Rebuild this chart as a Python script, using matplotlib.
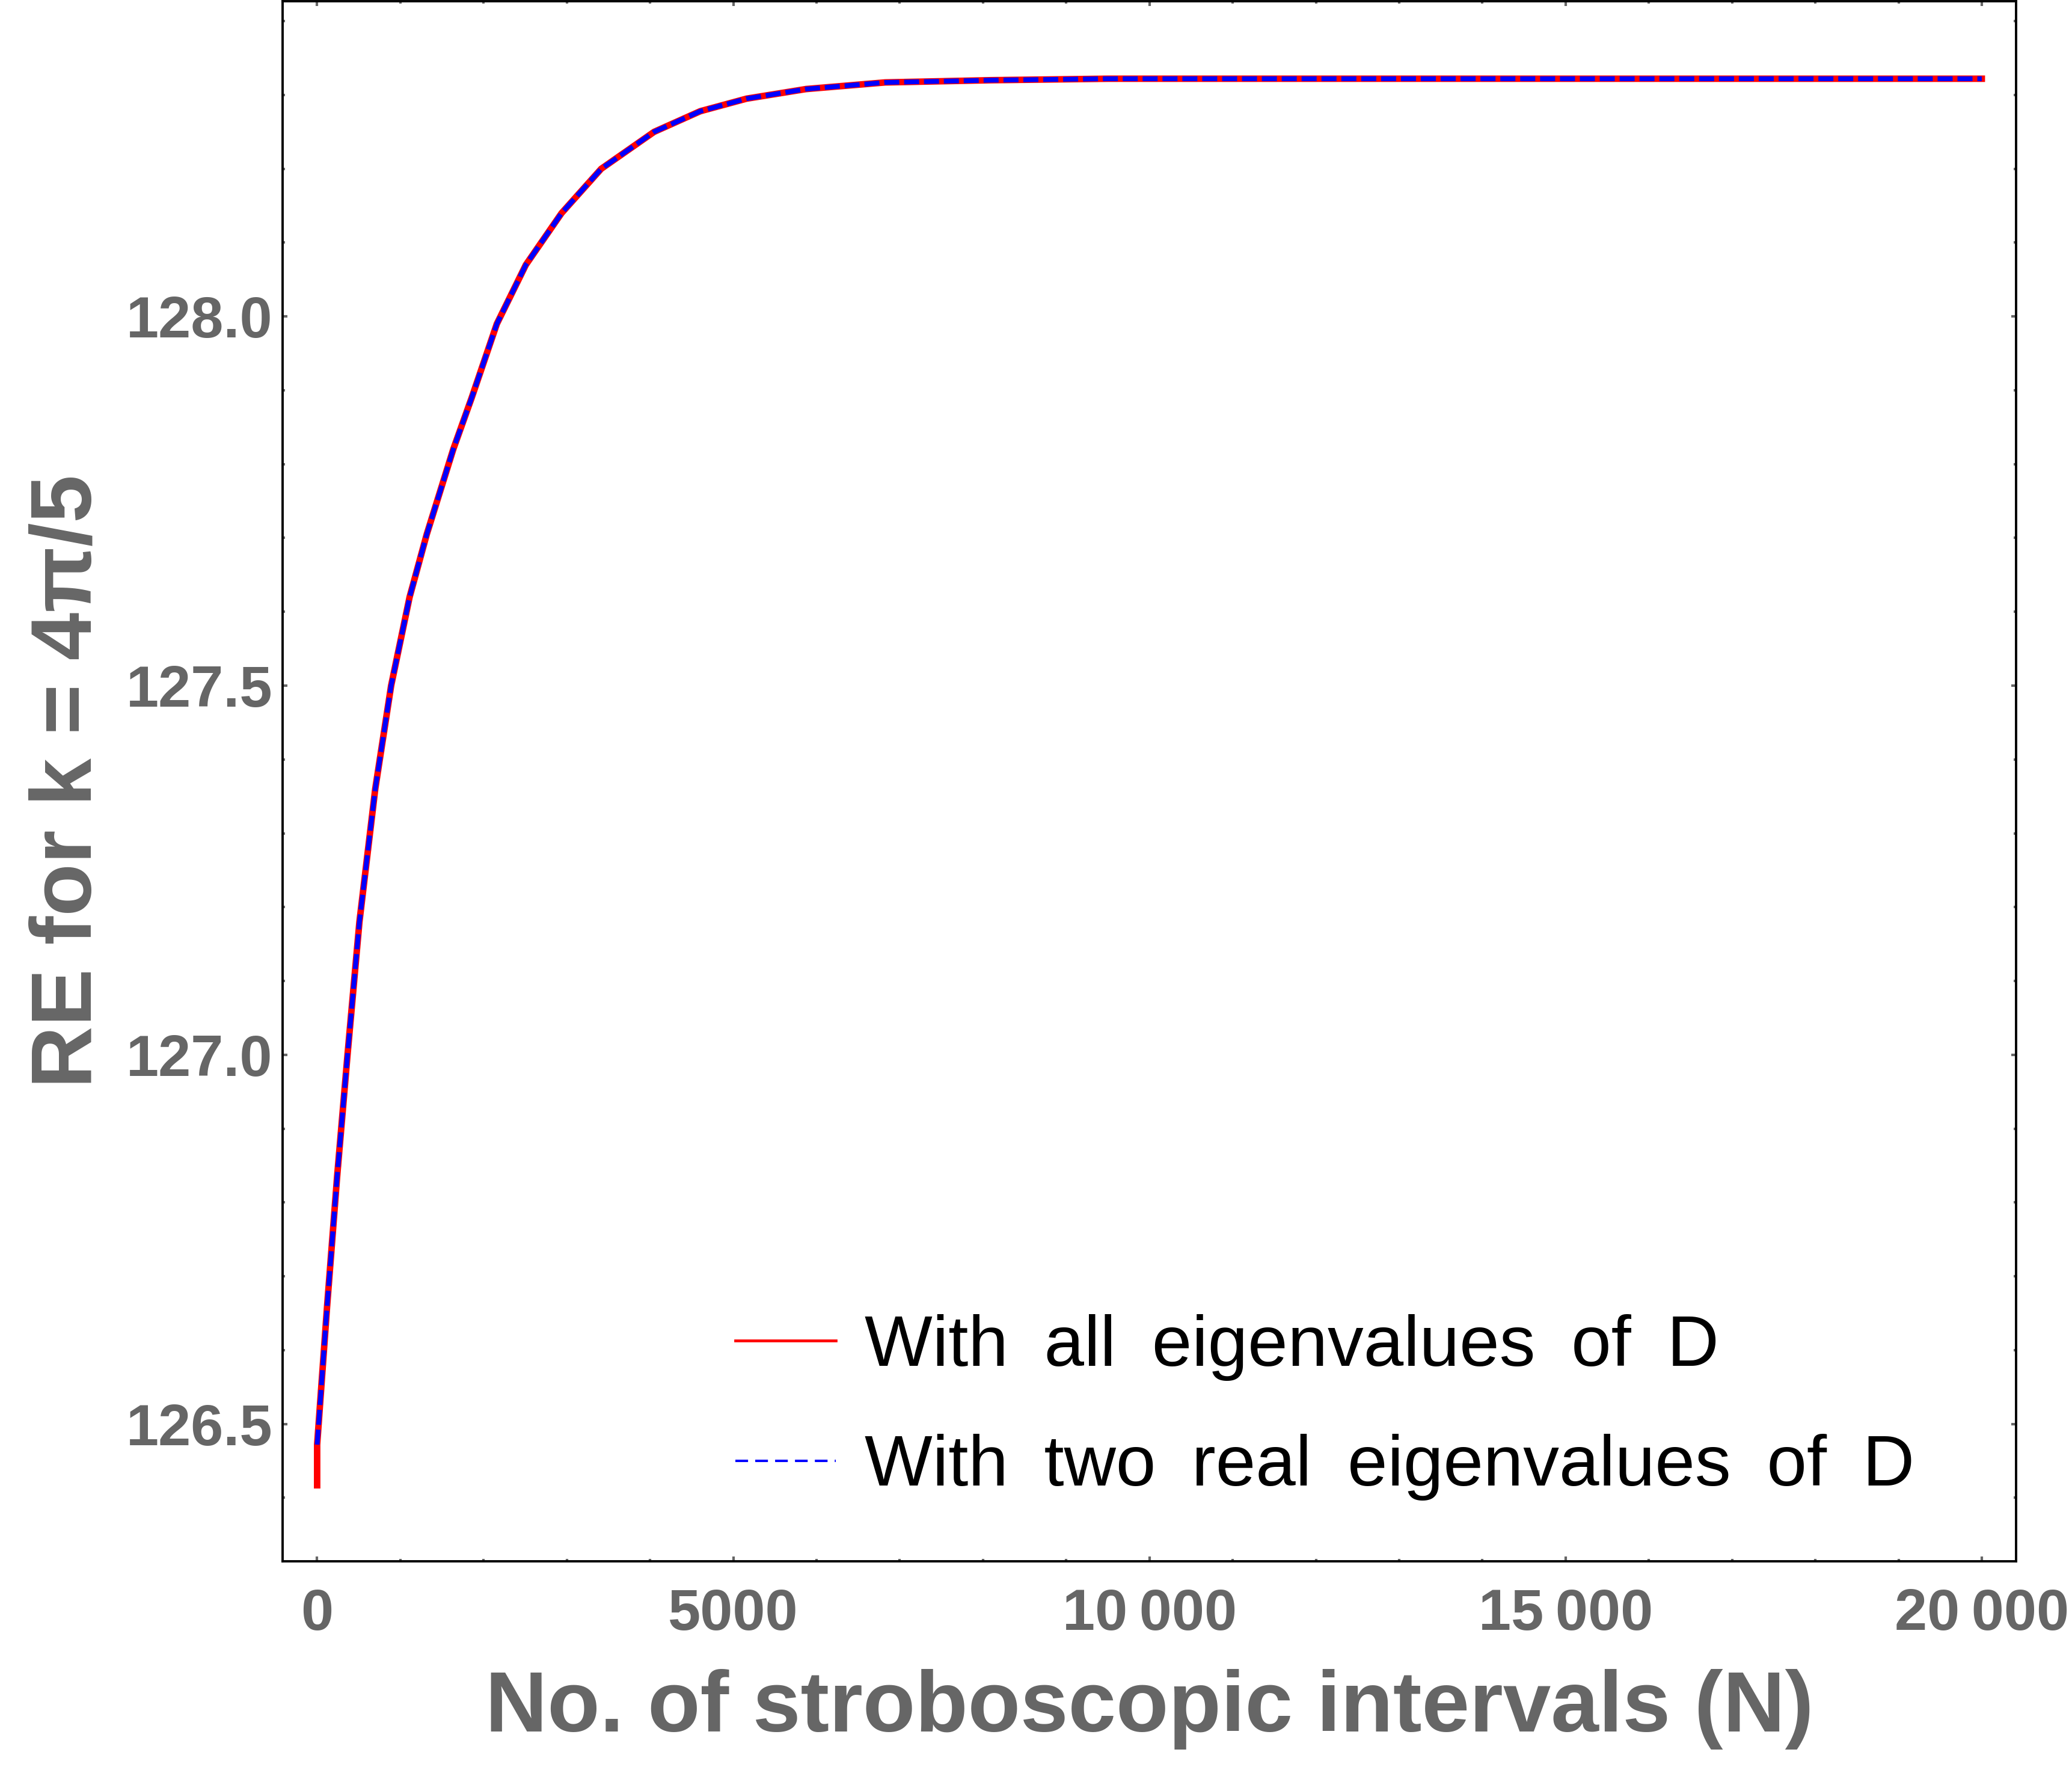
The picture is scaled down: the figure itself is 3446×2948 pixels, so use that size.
import numpy as np
import matplotlib
matplotlib.use('Agg')
import matplotlib.pyplot as plt
from matplotlib.lines import Line2D

# datos (N = intervalos estroboscopicos)
n_puntos = [0, 120, 240, 365, 508, 698, 889, 1111, 1317, 1635, 1857, 2159,
            2508, 2937, 3413, 4048, 4603, 5159, 5873, 6825, 8095, 9500,
            12000, 16000, 20000]
re_reales = [126.472, 126.66, 126.835, 127.00, 127.18, 127.36, 127.50,
             127.62, 127.705, 127.82, 127.89, 127.99, 128.07, 128.14,
             128.20, 128.25, 128.278, 128.295, 128.308, 128.317, 128.320,
             128.322, 128.322, 128.322, 128.322]
# la curva roja arranca un poco mas abajo en N = 0
n_todos = [0] + n_puntos
re_todos = [126.417] + re_reales

xticks = [0, 5000, 10000, 15000, 20000]
xtick_labels = ['0', '5000', '10\u2009000', '15\u2009000', '20\u2009000']
yticks = [126.5, 127.0, 127.5, 128.0]
ytick_labels = ['126.5', '127.0', '127.5', '128.0']

# espacios mas anchos entre palabras, como en el original
etiquetas = ['With\u2002all\u2002eigenvalues\u2002of\u2002D',
             'With\u2002two\u2002real\u2002eigenvalues\u2002of\u2002D']

plt.rcParams['font.family'] = ['Liberation Sans', 'DejaVu Sans']
plt.rcParams['lines.scale_dashes'] = False

gris = '#666666'

fig = plt.figure(figsize=(3446 / 200, 2948 / 200), dpi=200)
ax = fig.add_axes([470 / 3446, 1 - 2596 / 2948, (3353 - 470) / 3446, 2594 / 2948])

ax.plot(n_todos, re_todos, color='red', lw=3.9, solid_joinstyle='miter')
ax.plot(n_puntos, re_reales, color='blue', lw=2.9, linestyle=(0, (9, 2.9)))

ax.set_xlim(-415, 20412)
ax.set_ylim(126.314, 128.427)

ax.set_xticks(xticks)
ax.set_xticklabels(xtick_labels)
ax.set_xticks(np.arange(0, 20001, 1000), minor=True)
ax.set_yticks(yticks)
ax.set_yticklabels(ytick_labels)
ax.set_yticks(np.arange(126.4, 128.41, 0.1), minor=True)

ax.tick_params(which='both', direction='in', top=True, right=True, color=gris,
               labelcolor=gris, labelsize=35)
ax.tick_params(which='major', length=3, width=1.5)
ax.tick_params(which='minor', length=1.5, width=1.5)
ax.tick_params(axis='x', which='major', pad=16)
ax.tick_params(axis='y', which='major', pad=6)
for lbl in ax.get_xticklabels() + ax.get_yticklabels():
    lbl.set_fontweight('bold')

for s in ax.spines.values():
    s.set_linewidth(1.4)
    s.set_color('black')

ax.set_xlabel('No. of stroboscopic intervals (N)', fontsize=51.5,
              fontweight='bold', color=gris)
ax.set_ylabel('RE for k = 4\u03c0/5', fontsize=51.5, fontweight='bold', color=gris)
ax.xaxis.set_label_coords(0.5, -0.069)
ax.yaxis.set_label_coords(-0.100, 0.5)

manijas = [Line2D([], [], color='red', lw=1.7),
           Line2D([], [], color='blue', lw=1.45, linestyle=(0, (7.6, 4.3)))]
ax.legend(manijas, etiquetas, loc='upper left',
          bbox_to_anchor=(1223 / 3446, 1 - 2185 / 2948),
          bbox_transform=fig.transFigure, frameon=False, fontsize=43,
          borderpad=0, borderaxespad=0, handlelength=1.4, handletextpad=0.4,
          labelspacing=0.74)

fig.savefig('out.png', dpi=200)
